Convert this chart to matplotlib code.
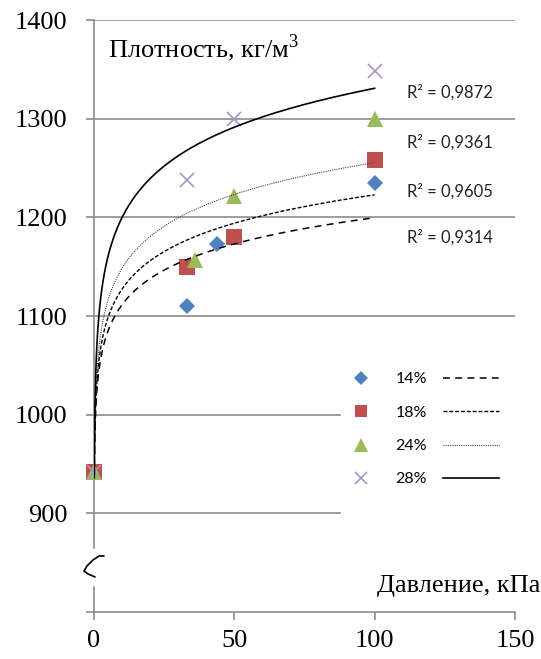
import numpy as np
import matplotlib.pyplot as plt
from matplotlib.lines import Line2D

# pressure, kPa (first point sits at ~0, log trend needs x>0)
p14 = [0.1, 33, 44, 100]
rho14 = [942, 1110, 1173, 1235]
p18 = [0.1, 33, 50, 100]
rho18 = [942, 1150, 1180, 1258]
p24 = [0.1, 36, 50, 100]
rho24 = [942, 1157, 1222, 1300]
p28 = [0.1, 33, 50, 100]
rho28 = [942, 1238, 1300, 1348]

labels = ["14%", "18%", "24%", "28%"]
r2_text = ["R² = 0,9872", "R² = 0,9361", "R² = 0,9605", "R² = 0,9314"]
r2_y = [1327, 1276, 1226, 1180]
xticks = [0, 50, 100, 150]
yticks = [800, 900, 1000, 1100, 1200, 1300, 1400]

serif = "Liberation Serif"
sans = "Lato"
gray = "#8c8c8c"
plt.rcParams["mathtext.fontset"] = "custom"
plt.rcParams["mathtext.rm"] = serif

fig = plt.figure(figsize=(5.41, 6.59), dpi=100)
ax = fig.add_axes([94/541, 47/659, 421/541, 592/659])

ax.set_xlim(0, 150)
ax.set_ylim(800, 1400)

# grid lines (lower ones hidden behind the legend area)
for y in yticks[1:]:
    xmax = 150 if y >= 1100 else 87.5
    ax.plot([0, xmax], [y, y], color=gray, lw=1.2, zorder=1)

for s in ["top", "right", "left"]:
    ax.spines[s].set_visible(False)
ax.spines["bottom"].set_color(gray)
ax.spines["bottom"].set_linewidth(1.2)
# broken y axis
ax.plot([0, 0], [865, 1400], color=gray, lw=1.2, zorder=1, clip_on=False)
ax.plot([0, 0], [800, 825], color=gray, lw=1.2, zorder=1, clip_on=False)
# squiggle (pixel offsets from the axis converted to data units)
sq_px = np.array([(10, 556), (5, 556), (-1, 560), (-7, 566), (-10, 571),
                  (-6, 574), (1, 577)], dtype=float)
sx = sq_px[:, 0] / 2.807
sy = 1400 - (sq_px[:, 1] - 20) / 0.9867
ax.plot(sx, sy, color="black", lw=1.2, clip_on=False, solid_capstyle="round")

ax.set_xticks(xticks)
ax.set_yticks(yticks)
ax.set_yticklabels([""] + [str(v) for v in yticks[1:]])
ax.tick_params(axis="y", direction="out", length=6, width=1.2, color=gray,
               pad=13, labelsize=19)
ax.tick_params(axis="x", direction="out", length=6, width=1.2, color=gray,
               pad=7, labelsize=19)
for t in ax.get_xticklabels() + ax.get_yticklabels():
    t.set_family(serif)

series = [
    (p14, rho14, "D", "#4F81BD", 8.5, dict(color="black", lw=1.1, dashes=(4.5, 3.5))),
    (p18, rho18, "s", "#C0504D", 11, dict(color="black", lw=1.0, dashes=(2.8, 1.4))),
    (p24, rho24, "^", "#9BBB59", 11.5, dict(color="#444444", lw=0.8, dashes=(1, 1))),
    (p28, rho28, "x", "#A595C8", 10.5, dict(color="black", lw=1.2)),
]

xs = np.geomspace(0.1, 100, 400)
mk_handles = []
ln_handles = []
for px, py, m, c, ms, st in series:
    ax.plot(px, py, ls="none", marker=m, color=c, ms=ms, mew=1.2 if m == "x" else 0,
            zorder=3, clip_on=False)
    a, b = np.polyfit(np.log(px), py, 1)
    ax.plot(xs, a*np.log(xs) + b, zorder=4, **st)
    mk_handles.append(Line2D([], [], ls="none", marker=m, color=c,
                             ms=ms*0.85, mew=1.2 if m == "x" else 0))
    ln_handles.append(Line2D([], [], **st))

for t, y in zip(r2_text, r2_y):
    ax.text(111.5, y, t, fontsize=12, family=sans, va="center", color="#222222")

ax.text(5, 1362, "Плотность, кг/м$^3$", fontsize=19, family=serif)
ax.text(159, 820, "Давление, кПа", fontsize=19, family=serif, ha="right",
        clip_on=False)

leg = ax.legend(mk_handles + ln_handles, labels + [""]*4, ncol=2,
                loc="upper left", bbox_to_anchor=(0.568, 0.405),
                bbox_transform=ax.transAxes, frameon=False, borderpad=0,
                borderaxespad=0, handlelength=3.5, handletextpad=0.4,
                columnspacing=1.0, labelspacing=1.2,
                prop={"family": sans, "size": 11.5})

fig.savefig("out.png", dpi=100)
